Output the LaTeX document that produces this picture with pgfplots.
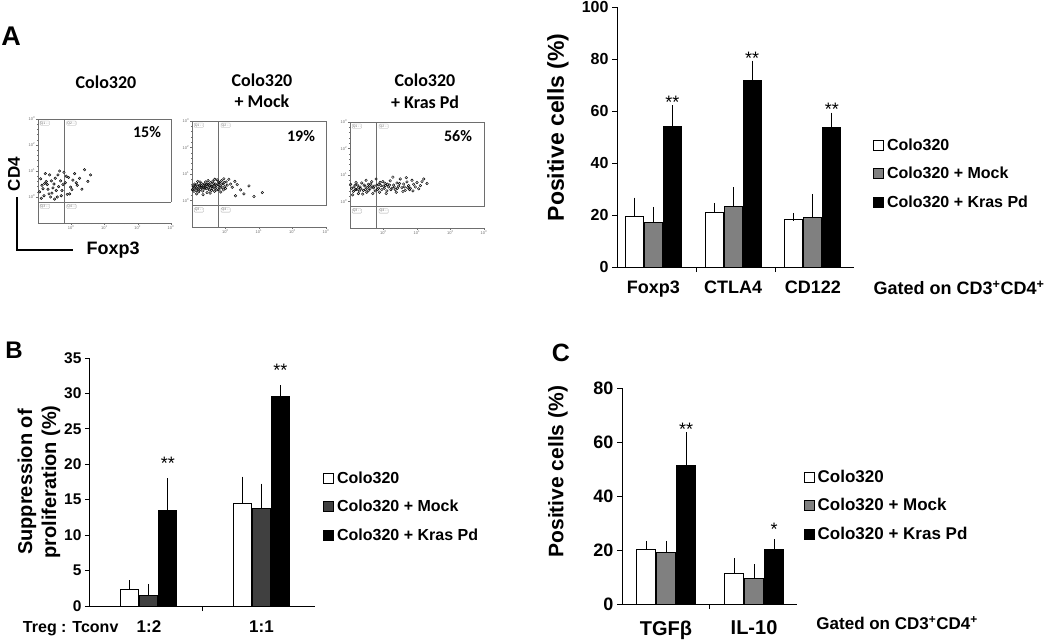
\documentclass[border=0pt]{standalone}
\usepackage{fontspec}
\setmainfont{Liberation Sans}
\newfontfamily\calib{Carlito}
\usepackage{pgfplots}
\pgfplotsset{compat=1.18}
\definecolor{gA}{HTML}{808080}
\definecolor{gB}{HTML}{404040}
\definecolor{flow}{HTML}{6E6E6E}
\newcommand{\fsz}[1]{\fontsize{#1}{#1}\selectfont}

\tikzset{qbox/.style={draw=flow!60, rounded corners=0.8pt, inner sep=0.6pt, anchor=north west,
          font=\fsz{3.5}, text=flow, line width=0.3pt}}
\pgfplotsset{
  sqleg/.style={legend image code/.code={\draw[##1,line width=1pt] (0pt,-5pt) rectangle (10pt,5pt);}},
  eb/.style={error bars/.cd, y dir=plus, y explicit,
     error bar style={line width=1pt,black},
     error mark options={line width=1pt,mark size=4pt,black}},
  barax/.style={
    scale only axis, anchor=south west,
    axis lines=left, axis line style={-, line width=1pt},
    ybar=1pt, bar width=18pt, ymin=0, clip=false,
    tick align=outside, major tick length=5pt,
    tick style={black,line width=1pt},
    /pgf/number format/assume math mode=true,
    every axis plot/.append style={draw=black,line width=1pt,sqleg},
    legend cell align=left,
    legend style={draw=none, fill=none, anchor=north west, row sep=12.5pt,
       column sep=2pt, nodes={inner sep=1pt, text height=12pt, text depth=2pt}},
  },
  flowax/.style={
    scale only axis, anchor=south west, clip=false,
    xmin=0, xmax=4, ymin=0, ymax=4,
    axis lines=left, axis line style={-, flow, line width=0.8pt},
    xtick={1,2,3,4}, ytick={1,2,3,4},
    xticklabels={10\textsuperscript{0},10\textsuperscript{1},10\textsuperscript{2},10\textsuperscript{3}},
    yticklabels={10\textsuperscript{0},10\textsuperscript{1},10\textsuperscript{2},10\textsuperscript{3}},
    minor tick num=4, tick align=outside,
    major tick length=2pt, minor tick length=1.2pt,
    tick style={flow, line width=0.4pt},
    ticklabel style={font=\fsz{4}, text=flow, inner sep=0.6pt},
  },
  cloud/.style={only marks, mark=*, mark size=1.3pt,
     mark options={draw=none, fill=black!55, fill opacity=0.28}},
}
\newcommand{\gates}{%
  \draw[flow, line width=0.8pt] (axis cs:0.8,0) -- (axis cs:0.8,4);
  \draw[flow, line width=0.8pt] (axis cs:0,0.8) -- (axis cs:4,0.8);
  \draw[flow, line width=0.8pt] (axis cs:0,4) -- (axis cs:4,4) -- (axis cs:4,0.8);
  \node[qbox] at (axis cs:0.06,3.93) {Q1\,-\,-};
  \node[qbox] at (axis cs:0.86,3.93) {Q2\,-\,-};
  \node[qbox] at (axis cs:0.06,0.73) {Q3\,-\,-};
  \node[qbox] at (axis cs:0.86,0.73) {Q4\,-\,-};
}

\begin{document}
\begin{tikzpicture}
\useasboundingbox (0,0) rectangle (1050pt,-642pt);

% ---------------- Panel A : flow plots ----------------
\node[font=\bfseries\fsz{27}] at (11pt,-36pt) {A};

\begin{axis}[flowax, at={(38pt,-223pt)}, width=133pt, height=104pt]
\addplot[cloud, mark options={fill=black!35}] coordinates {
(0.05,1.20) (0.12,1.45) (0.18,1.05) (0.25,1.60) (0.30,1.30) (0.35,1.85) (0.42,1.15) (0.48,1.50)
(0.52,1.72) (0.58,1.00) (0.62,1.40) (0.68,1.62) (0.72,1.25) (0.78,1.95) (0.82,1.55) (0.88,1.10)
(0.92,1.75) (0.98,1.38) (1.05,1.65) (1.10,1.90) (1.18,1.45) (1.25,1.72) (1.32,1.30) (1.40,2.05)
(1.50,1.60) (1.58,1.85) (0.08,1.70) (0.22,1.90) (0.38,1.00) (0.55,1.25) (0.65,2.00) (0.75,1.48)
(0.95,1.12) (1.15,1.55) (0.28,1.48) (0.45,1.35) (0.15,1.32) (0.85,1.80) (1.02,1.28) (0.60,1.85)
(0.10,0.95) (0.33,1.12) (0.50,0.92) (0.70,1.05) (0.40,1.62) (0.20,1.52)};
\gates
\end{axis}

\begin{axis}[flowax, at={(192pt,-227pt)}, width=134pt, height=106pt]
\addplot[cloud] coordinates {
(0.05,1.45) (0.10,1.52) (0.12,1.38) (0.15,1.60) (0.18,1.47) (0.20,1.33) (0.22,1.55) (0.25,1.42)
(0.28,1.65) (0.30,1.50) (0.32,1.36) (0.35,1.58) (0.38,1.44) (0.40,1.70) (0.42,1.52) (0.45,1.30)
(0.47,1.62) (0.50,1.48) (0.52,1.40) (0.55,1.67) (0.57,1.55) (0.60,1.45) (0.62,1.73) (0.65,1.58)
(0.67,1.35) (0.70,1.62) (0.72,1.50) (0.75,1.78) (0.78,1.60) (0.80,1.42) (0.82,1.68) (0.85,1.55)
(0.88,1.75) (0.90,1.48) (0.93,1.63) (0.95,1.82) (0.98,1.52) (1.02,1.70) (1.05,1.58) (1.10,1.80)
(1.15,1.62) (1.20,1.50) (1.28,1.72) (1.35,1.60) (1.45,1.40) (1.55,1.25) (1.70,1.55) (1.85,1.15)
(2.10,1.30) (1.30,1.18) (0.08,1.62) (0.14,1.25) (0.24,1.70) (0.33,1.22) (0.44,1.45) (0.54,1.28)
(0.63,1.52) (0.74,1.40) (0.86,1.32) (0.96,1.68) (0.06,1.35) (0.17,1.72) (0.27,1.50) (0.37,1.62)
(0.48,1.75) (0.58,1.38) (0.68,1.80) (0.79,1.70) (0.89,1.62) (1.00,1.45) (0.03,1.55) (0.13,1.48)
(0.23,1.58) (0.34,1.48) (0.43,1.60) (0.53,1.56) (0.64,1.65) (0.73,1.58) (0.84,1.50) (0.94,1.40)
(0.02,1.42) (0.09,1.58) (0.19,1.40) (0.29,1.56) (0.39,1.50) (0.49,1.60) (0.59,1.52) (0.69,1.46)};
\gates
\end{axis}

\begin{axis}[flowax, at={(350pt,-228pt)}, width=134pt, height=106pt]
\addplot[cloud] coordinates {
(0.05,1.50) (0.10,1.38) (0.15,1.62) (0.20,1.45) (0.25,1.30) (0.30,1.55) (0.35,1.70) (0.40,1.42)
(0.45,1.58) (0.50,1.35) (0.55,1.65) (0.60,1.48) (0.65,1.75) (0.70,1.52) (0.75,1.40) (0.80,1.62)
(0.85,1.50) (0.90,1.72) (0.95,1.45) (1.00,1.58) (1.05,1.68) (1.10,1.40) (1.15,1.55) (1.20,1.78)
(1.25,1.50) (1.30,1.62) (1.35,1.45) (1.40,1.70) (1.45,1.58) (1.50,1.85) (1.55,1.52) (1.60,1.66)
(1.65,1.42) (1.70,1.74) (1.75,1.60) (1.80,1.50) (1.85,1.80) (1.90,1.65) (1.95,1.55) (2.00,1.72)
(2.10,1.60) (2.20,1.85) (2.30,1.68) (0.08,1.25) (0.18,1.72) (0.28,1.40) (0.38,1.28) (0.48,1.80)
(0.58,1.60) (0.68,1.30) (0.78,1.85) (0.88,1.35) (0.98,1.75) (1.08,1.30) (1.18,1.62) (1.28,1.92)
(1.38,1.35) (1.48,1.68) (1.58,1.38) (1.68,1.90) (1.78,1.45) (1.88,1.40) (2.05,1.48) (2.15,1.75)
(0.12,1.55) (0.22,1.62) (0.32,1.48) (0.42,1.62) (0.52,1.52) (0.62,1.66) (0.72,1.58) (0.82,1.45)
(0.92,1.60) (1.02,1.50) (1.12,1.65) (1.22,1.45) (1.32,1.55) (1.42,1.50) (1.62,1.55) (1.72,1.52)
(0.02,1.65) (0.16,1.45) (0.46,1.45) (0.66,1.55) (0.86,1.65) (1.06,1.60) (0.26,1.52) (0.56,1.42)};
\gates
\end{axis}

\node[font=\calib\bfseries\fsz{18}] at (106pt,-82pt) {Colo320};
\node[font=\calib\bfseries\fsz{18}] at (262pt,-80pt) {Colo320};
\node[font=\calib\bfseries\fsz{18}] at (262pt,-101pt) {+ Mock};
\node[font=\calib\bfseries\fsz{18}] at (425pt,-80pt) {Colo320};
\node[font=\calib\bfseries\fsz{18}] at (425pt,-102pt) {+ Kras Pd};
\node[font=\calib\bfseries\fsz{16}] at (147pt,-132pt) {15\%};
\node[font=\calib\bfseries\fsz{16}] at (301pt,-136pt) {19\%};
\node[font=\calib\bfseries\fsz{16}] at (458pt,-136pt) {56\%};
\node[rotate=90, font=\bfseries\fsz{17}] at (14pt,-174pt) {CD4};
\draw[line width=1.3pt] (17pt,-197pt) -- (17pt,-250pt) -- (73pt,-250pt);
\node[anchor=west, font=\bfseries\fsz{18}] at (83pt,-250pt) {Foxp3};

% ---------------- Panel A : bar chart ----------------
\begin{axis}[barax, at={(617pt,-267pt)}, width=237pt, height=260pt,
  xmin=0, xmax=3, ymax=100, ytick={0,20,...,100},
  yticklabel style={font=\bfseries\fsz{16}},
  xtick={1,2}, xticklabels={{},{}},
  extra x ticks={0.46,1.47,2.48}, extra x tick labels={Foxp3,CTLA4,CD122},
  extra x tick style={major tick length=0pt, tick label style={font=\bfseries\fsz{18}, yshift=-10pt}},
  ylabel={Positive cells (\%)},
  every axis y label/.style={at={(axis description cs:-0.249,0.537)}, rotate=90, anchor=center, font=\bfseries\fsz{23}},
  legend style={at={(axis description cs:1.067,0.508)}, font=\bfseries\fsz{16}}]
\addplot[fill=white, eb] coordinates {(0.46,19.3) +- (0,5.8) (1.47,21.0) +- (0,2.1) (2.48,18.4) +- (0,0.9)};
\addplot[fill=gA, eb] coordinates {(0.46,17.0) +- (0,4.6) (1.47,23.1) +- (0,6.1) (2.48,19.0) +- (0,7.6)};
\addplot[fill=black, eb] coordinates {(0.46,54.0) +- (0,6.7) (1.47,71.6) +- (0,6.2) (2.48,53.6) +- (0,4.2)};
\legend{Colo320, Colo320 + Mock, Colo320 + Kras Pd}
\node[font=\fsz{18}, yshift=-3pt] at (axis cs:0.70,64.5) {**};
\node[font=\fsz{18}, yshift=-3pt] at (axis cs:1.71,81.6) {**};
\node[font=\fsz{18}, yshift=-3pt] at (axis cs:2.72,61.7) {**};
\node[anchor=west, font=\bfseries\fsz{18}] at (axis description cs:1.068,-0.081) {Gated on CD3\textsuperscript{+}CD4\textsuperscript{+}};
\end{axis}

% ---------------- Panel B ----------------
\node[font=\bfseries\fsz{24}] at (14pt,-350pt) {B};
\begin{axis}[barax, at={(90pt,-606pt)}, width=225pt, height=248pt,
  xmin=0, xmax=2, ymax=35, ytick={0,5,...,35},
  yticklabel style={font=\bfseries\fsz{15.5}},
  xtick={1}, xticklabels={{}},
  extra x ticks={0.524,1.524}, extra x tick labels={1:2,1:1},
  extra x tick style={major tick length=0pt, tick label style={font=\bfseries\fsz{17}, yshift=-11pt}},
  ylabel={Suppression of\\proliferation (\%)},
  every axis y label/.style={at={(axis description cs:-0.227,0.5)}, rotate=90, anchor=center, align=center, font=\bfseries\fontsize{20}{24}\selectfont},
  legend style={at={(axis description cs:1.022,0.556)}, font=\bfseries\fsz{16}}]
\addplot[fill=white, eb] coordinates {(0.524,2.35) +- (0,0.75) (1.524,14.4) +- (0,3.3)};
\addplot[fill=gB, eb] coordinates {(0.524,1.46) +- (0,1.1) (1.524,13.8) +- (0,2.9)};
\addplot[fill=black, eb] coordinates {(0.524,13.5) +- (0,4.0) (1.524,29.5) +- (0,1.1)};
\legend{Colo320, Colo320 + Mock, Colo320 + Kras Pd}
\node[font=\fsz{18}, yshift=-3pt] at (axis cs:0.693,20.6) {**};
\node[font=\fsz{18}, yshift=-3pt] at (axis cs:1.693,33.7) {**};
\node[anchor=east, font=\bfseries\fsz{16}] at (axis description cs:0.142,-0.093) {Treg : Tconv};
\end{axis}

% ---------------- Panel C ----------------
\node[font=\bfseries\fsz{25}] at (561pt,-353pt) {C};
\begin{axis}[barax, at={(622pt,-604pt)}, width=175pt, height=216pt,
  ybar=0.5pt, bar width=19.5pt,
  xmin=0, xmax=2, ymax=80, ytick={0,20,...,80},
  yticklabel style={font=\bfseries\fsz{18}},
  xtick={1}, xticklabels={{}},
  extra x ticks={0.503,1.509}, extra x tick labels={TGFβ,IL-10},
  extra x tick style={major tick length=0pt, tick label style={font=\bfseries\fsz{20}, yshift=-13pt}},
  ylabel={Positive cells (\%)},
  every axis y label/.style={at={(axis description cs:-0.366,0.613)}, rotate=90, anchor=center, font=\bfseries\fsz{21}},
  legend style={at={(axis description cs:1.02,0.634)}, font=\bfseries\fsz{17}}]
\addplot[fill=white, eb] coordinates {(0.503,20.3) +- (0,1.6) (1.509,11.4) +- (0,4.1)};
\addplot[fill=gA, eb] coordinates {(0.503,19.2) +- (0,2.7) (1.509,9.3) +- (0,3.9)};
\addplot[fill=black, eb] coordinates {(0.503,51.2) +- (0,10.9) (1.509,20.3) +- (0,2.2)};
\legend{Colo320, Colo320 + Mock, Colo320 + Kras Pd}
\node[font=\fsz{18}, yshift=-3pt] at (axis cs:0.732,66) {**};
\node[font=\fsz{18}, yshift=-3pt] at (axis cs:1.738,28.7) {*};
\node[anchor=west, font=\bfseries\fsz{17}] at (axis description cs:1.091,-0.088) {Gated on CD3\textsuperscript{+}CD4\textsuperscript{+}};
\end{axis}
\end{tikzpicture}
\end{document}
